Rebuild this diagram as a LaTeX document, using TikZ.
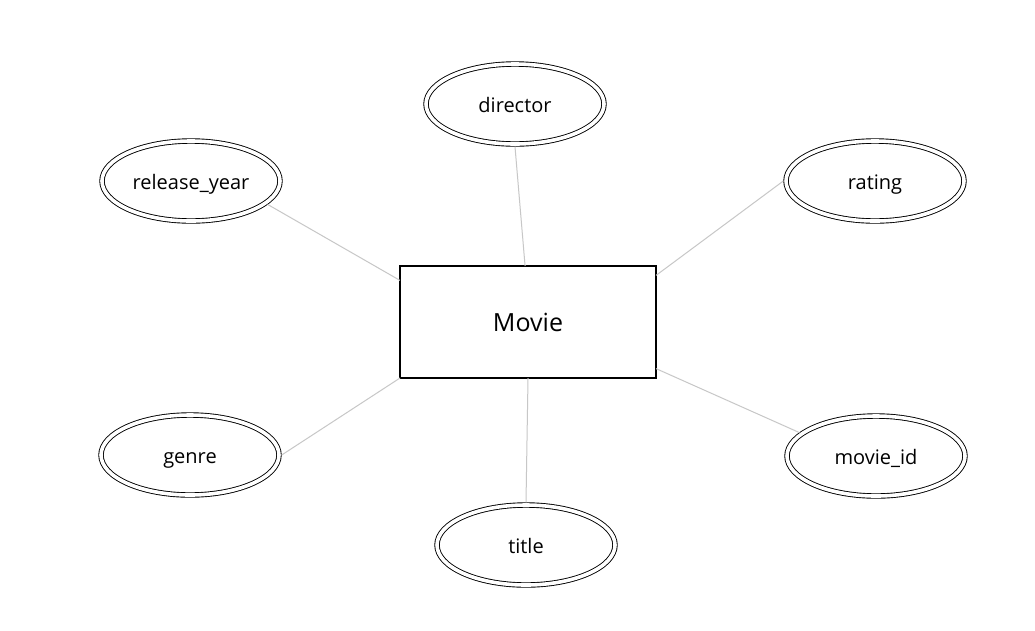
\documentclass[tikz,border=0pt]{standalone}
\usepackage{fontspec}
\setmainfont{Open Sans}
\usetikzlibrary{shapes.geometric}

\begin{document}
\begin{tikzpicture}[x=1pt,y=-1pt,
    attr/.style={draw,ellipse,double,double distance=3.6pt,line width=0.9pt,inner sep=0pt,outer sep=2.7pt,minimum width=178pt,minimum height=80pt,text height=16pt,text depth=0pt,font=\fontsize{20}{24}\selectfont},
    ent/.style={draw,line width=1.2pt,inner sep=0pt,outer sep=0pt,minimum width=256pt,minimum height=112pt,font=\fontsize{25}{30}\selectfont},
    link/.style={draw=black!22,line width=1pt}]
  \useasboundingbox[fill=white] (0,0) rectangle (1035,630);

  \node [ent] (movie-ent) at (528,322) {Movie};
  \draw[line width=2.4pt] (movie-ent.south west) -- (movie-ent.south east);

  \node [attr] (director-attr) at (515,104) {director};
  \node [attr] (year-attr) at (191,181) {release\_year};
  \node [attr] (rating-attr) at (875,181) {rating};
  \node [attr] (genre-attr) at (190,455) {genre};
  \node [attr] (id-attr) at (876,456) {movie\_id};
  \node [attr] (title-attr) at (526,545) {title};

  \draw[link] (year-attr.-17.8) -- (movie-ent.162.2);
  \draw[link] (director-attr.south) -- (movie-ent.93);
  \draw[link] (rating-attr.west) -- (movie-ent.20.4);
  \draw[link] (genre-attr.east) -- (movie-ent.south west);
  \draw[link] (title-attr.north) -- (movie-ent.south);
  \draw[link] (id-attr.163.5) -- (movie-ent.-20.4);
\end{tikzpicture}
\end{document}
